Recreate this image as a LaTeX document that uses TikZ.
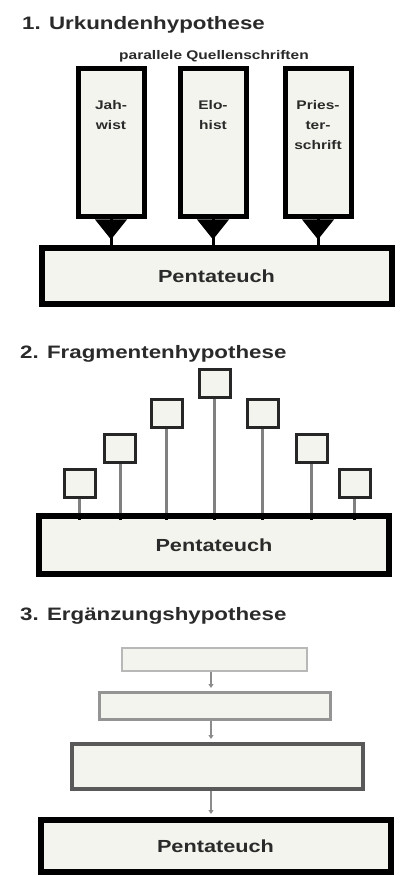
\documentclass[tikz,border=0pt]{standalone}
\usepackage{fontspec}
\setmainfont{Liberation Sans}
\usetikzlibrary{arrows.meta}
\definecolor{boxfill}{HTML}{F4F4EE}
\definecolor{txt}{HTML}{2A2A2A}
\newcommand{\wt}[1]{\scalebox{1.24}[1]{#1}}
\tikzset{
  title/.style={anchor=base west, inner sep=0pt, text=txt, font=\bfseries\fontsize{18}{20}\selectfont},
  src/.style={draw=black, line width=5pt, fill=boxfill, minimum width=66pt, minimum height=148pt, inner sep=0pt},
  srctext/.style={anchor=north, inner sep=0pt, align=center, text=txt, font=\bfseries\fontsize{12.5}{20}\selectfont},
  penta/.style={draw=black, line width=6pt, fill=boxfill, minimum width=350pt, inner sep=0pt, text=txt, font=\bfseries\fontsize{17.5}{20}\selectfont},
  frag/.style={draw=black!85, line width=3pt, fill=boxfill, minimum width=31pt, minimum height=28pt, inner sep=0pt},
  stem/.style={draw=black!50, line width=3pt},
  stub/.style={draw=black, line width=3pt},
  ergbox/.style={fill=boxfill, inner sep=0pt},
  conn/.style={draw=black!45, line width=2pt, -{Triangle[length=4pt,width=5pt]}, shorten >=3pt}
}
\begin{document}
\begin{tikzpicture}[x=1pt,y=-1pt]
\useasboundingbox[fill=white] (0,0) rectangle (414,877);

% ---------- 1. Urkundenhypothese ----------
\node[title] (t1) at (22,30) {\wt{1. Urkundenhypothese}};
\node[anchor=base, inner sep=0pt, text=txt, font=\bfseries\fontsize{12.5}{14}\selectfont] (pq) at (214,60) {\wt{parallele Quellenschriften}};

\node[src] (j) at (111,143) {};
\node[src] (e) at (213,143) {};
\node[src] (p) at (318,143) {};
\node[srctext] (jt) at ([yshift=-34pt]j.north) {\wt{Jah-}\\\wt{wist}};
\node[srctext] (et) at ([yshift=-34pt]e.north) {\wt{Elo-}\\\wt{hist}};
\node[srctext] (pt) at ([yshift=-34pt]p.north) {\wt{Pries-}\\\wt{ter-}\\\wt{schrift}};

\node[penta, minimum height=56pt] (P1) at (216.5,276) {\wt{Pentateuch}};

\foreach \b in {j,e,p}{
  \fill[black] ([xshift=-16pt]\b.south) -- ([xshift=16pt]\b.south) -- ([yshift=-20pt]\b.south) -- cycle;
  \draw[black, line width=3pt] (\b.south) -- (\b.south |- P1.north);
}

% ---------- 2. Fragmentenhypothese ----------
\node[title] (t2) at (20,358) {\wt{2. Fragmentenhypothese}};
\node[penta, minimum height=58pt] (P2) at (214,545) {\wt{Pentateuch}};

\node[frag] (f1) at (79.5,483.5) {};
\node[frag] (f2) at (120,448.5) {};
\node[frag] (f3) at (166.5,413.5) {};
\node[frag] (f4) at (214.5,383) {};
\node[frag] (f5) at (262.5,413.5) {};
\node[frag] (f6) at (311.5,448.5) {};
\node[frag] (f7) at (354.5,483.5) {};
\foreach \f in {f1,f2,f3,f4,f5,f6,f7}{
  \draw[stem] (\f.south) -- (\f.south |- P2.north);
  \draw[stub] ([yshift=-7pt]\f.south |- P2.north) -- (\f.south |- P2.north);
}

% ---------- 3. Ergänzungshypothese ----------
\node[title] (t3) at (20,620) {\wt{3. Ergänzungshypothese}};
\node[ergbox, draw=black!28, line width=2.5pt, minimum width=185pt, minimum height=23pt] (a) at (214.5,659.5) {};
\node[ergbox, draw=black!42, line width=3pt, minimum width=231pt, minimum height=27pt] (b) at (215,706) {};
\node[ergbox, draw=black!65, line width=4pt, minimum width=291pt, minimum height=45pt] (c) at (217.5,766.5) {};
\node[penta, minimum height=52pt] (P3) at (215.5,846) {\wt{Pentateuch}};

\draw[conn] (a.south -| 211,0) -- (b.north -| 211,0);
\draw[conn] (b.south -| 211,0) -- (c.north -| 211,0);
\draw[conn] (c.south -| 211,0) -- (P3.north -| 211,0);
\end{tikzpicture}
\end{document}
